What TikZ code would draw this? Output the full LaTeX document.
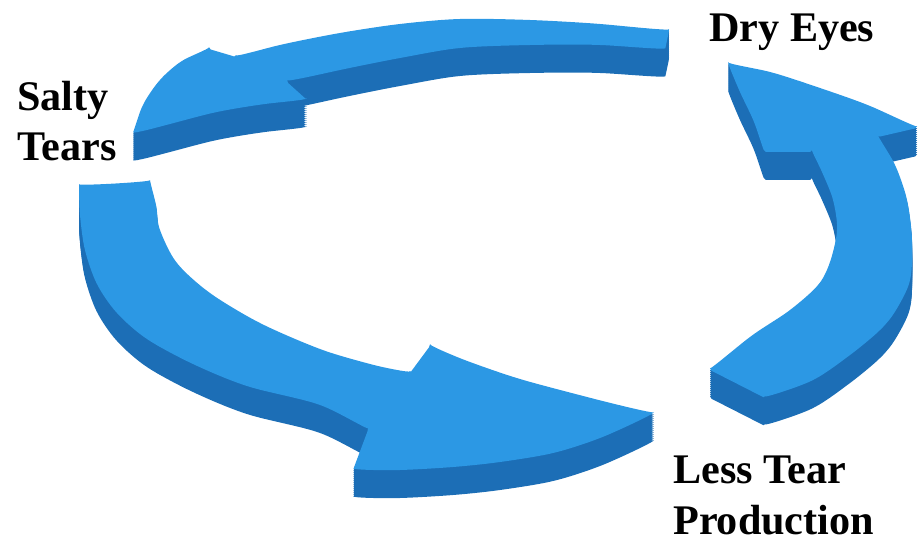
\documentclass[tikz,border=0pt]{standalone}
\usepackage{fontspec}
\setmainfont{Liberation Serif}
\usetikzlibrary{calc}
\definecolor{arrowblue}{RGB}{44,152,228}
\definecolor{arrowdark}{RGB}{28,110,182}
% top faces of the three bent arrows (pixel units, y downwards)
\def\arrowsalty{plot[smooth] coordinates {(669,31) (600,24) (530,20) (460,19) (400,24) (340,33) (280,45) (236,57)}
 -- plot[smooth] coordinates {(209,49) (182,61) (160,80) (143,105) (133,134)}
 -- plot[smooth] coordinates {(133,134) (170,124) (217,112) (265,104) (307,100)}
 -- plot[smooth] coordinates {(287,82) (340,70) (400,58) (460,48) (530,45) (600,45) (665,50)} -- cycle}
\def\arrowless{plot[smooth] coordinates {(79,186) (150,182)}
 -- plot[smooth] coordinates {(150,182) (156,205) (160,230) (177,263) (210,293) (260,323) (320,349) (370,364) (410,373)}
 -- plot[smooth] coordinates {(430,346) (470,362) (520,379) (587,397) (654,414)}
 -- plot[smooth] coordinates {(654,414) (600,438) (553,453) (500,462) (453,467) (400,470) (353,470)}
 -- plot[smooth] coordinates {(368,430) (320,405) (247,386) (193,364) (147,339) (117,313) (97,284) (85,250) (80,215) (79,186)} -- cycle}
\def\arrowdry{plot[smooth] coordinates {(728,64) (770,72) (820,88) (870,106) (917,128)}
 -- plot[smooth] coordinates {(878,137) (895,165) (907,200) (912,240) (910,280) (896,310) (880,330) (850,355) (813,380) (765,398)}
 -- plot[smooth] coordinates {(710,370) (750,337) (790,310) (818,285) (830,262) (837,230) (833,200) (822,172) (812,152)}
 -- plot[smooth] coordinates {(764,152) (754,122) (740,92) (728,64)} -- cycle}
% side walls first, then the top face
\def\extrude#1{\foreach \s in {28,26,...,2}{\fill[side,shift={(0,\s)}] #1;}\fill[face] #1;}
\begin{document}
\begin{tikzpicture}[x=0.03cm,y=-0.03cm,
  face/.style={fill=arrowblue, rounded corners=1.5pt},
  side/.style={fill=arrowdark, rounded corners=1.5pt},
  lbl/.style={font=\fontsize{36}{43}\selectfont\bfseries, inner sep=0pt, align=left, anchor=north west}]
\useasboundingbox (0,0) rectangle (919,541);
\extrude{\arrowsalty}
\extrude{\arrowless}
\extrude{\arrowdry}
\node[lbl] (salty) at (17,81) {Salty\\Tears};
\node[lbl] (dry) at (709,14) {Dry Eyes};
\node[lbl] (less) at (673,456) {Less Tear\\Production};
\end{tikzpicture}
\end{document}
